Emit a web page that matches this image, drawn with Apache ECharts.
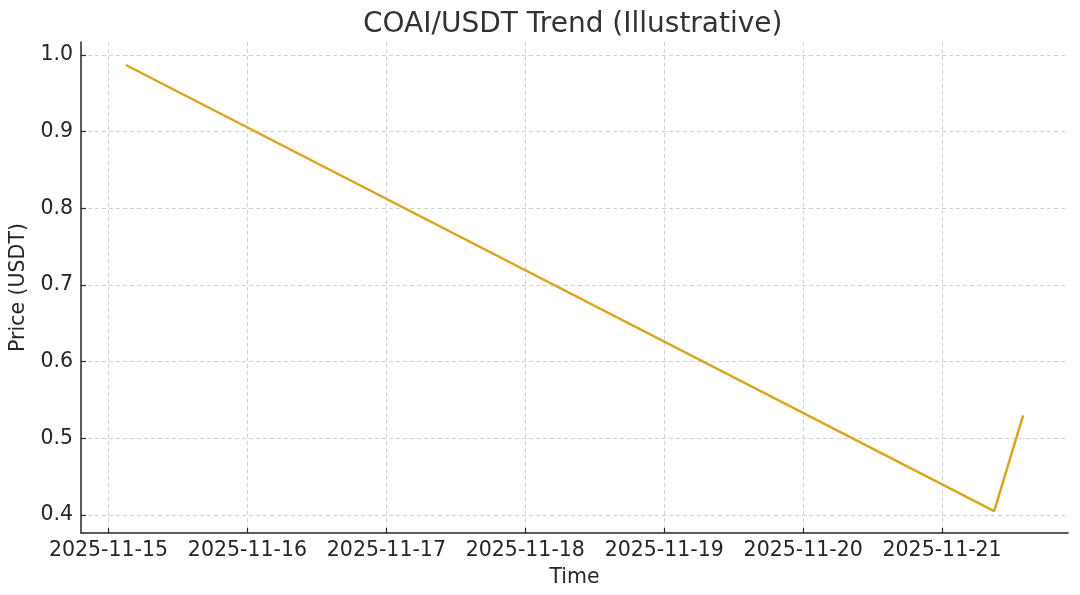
<!DOCTYPE html>
<html>
<head>
<meta charset="utf-8">
<script src="https://cdn.jsdelivr.net/npm/echarts@6/dist/echarts.min.js"></script>
<style>html,body{margin:0;padding:0;background:#fff;}#c{width:1080px;height:595px;}</style>
</head>
<body>
<div id="c"></div>
<script>
const times = ['2025-11-15T03:00:00Z', '2025-11-21T09:00:00Z', '2025-11-21T14:00:00Z'];
const prices = [0.987, 0.405, 0.530];
const xTicks = ['2025-11-15', '2025-11-16', '2025-11-17', '2025-11-18', '2025-11-19', '2025-11-20', '2025-11-21'];
const yTicks = [0.4, 0.5, 0.6, 0.7, 0.8, 0.9, 1.0];

const xTickVals = xTicks.map(d => Date.parse(d + 'T00:00:00Z'));
const tMin = Date.parse('2025-11-14T19:15:00Z');
const tMax = Date.parse('2025-11-21T21:45:00Z');
const font = 'DejaVu Sans';
const dark = '#262626';
const fs = 20.5;

function fmtDate(v) {
  const d = new Date(v);
  const p = n => String(n).padStart(2, '0');
  return d.getUTCFullYear() + '-' + p(d.getUTCMonth() + 1) + '-' + p(d.getUTCDate());
}

const chart = echarts.init(document.getElementById('c'), null, {renderer: 'canvas'});
chart.setOption({
  animation: false,
  backgroundColor: '#fff',
  title: {
    text: 'COAI/USDT Trend (Illustrative)',
    left: 358, top: 6,
    textStyle: {fontFamily: font, fontSize: 28, fontWeight: 'normal', color: '#333'}
  },
  grid: {left: 81, right: 12, top: 42, bottom: 62, containLabel: false, outerBoundsMode: 'none'},
  xAxis: {
    type: 'value', min: tMin, max: tMax, scale: true,
    name: 'Time', nameLocation: 'middle', nameGap: 34,
    nameTextStyle: {fontFamily: font, fontSize: fs, color: dark},
    axisLine: {show: true, onZero: false, lineStyle: {color: dark, width: 1.5}},
    axisTick: {show: true, inside: true, length: 5, customValues: xTickVals, lineStyle: {color: dark, width: 1.2}},
    axisLabel: {customValues: xTickVals, fontFamily: font, fontSize: fs, color: dark, margin: 7,
      formatter: v => fmtDate(v)},
    splitLine: {show: true, customValues: xTickVals, lineStyle: {color: '#cccccc', type: [4, 3], width: 0.9}}
  },
  yAxis: {
    type: 'value', min: 0.3765, max: 1.017, scale: true,
    name: 'Price (USDT)', nameLocation: 'middle', nameGap: 50, nameRotate: 90,
    nameTextStyle: {fontFamily: font, fontSize: fs, color: dark},
    axisLine: {show: true, onZero: false, lineStyle: {color: dark, width: 1.5}},
    axisTick: {show: true, inside: true, length: 5, customValues: yTicks, lineStyle: {color: dark, width: 1.2}},
    axisLabel: {customValues: yTicks, fontFamily: font, fontSize: fs, color: dark, margin: 8,
      formatter: v => v.toFixed(1)},
    splitLine: {show: true, customValues: yTicks, lineStyle: {color: '#cccccc', type: [4, 3], width: 0.9}}
  },
  series: [{
    type: 'line',
    data: times.map((t, i) => [Date.parse(t), prices[i]]),
    showSymbol: false,
    lineStyle: {color: '#DAA520', width: 2.5},
    itemStyle: {color: '#DAA520'}
  }]
});
</script>
</body>
</html>
